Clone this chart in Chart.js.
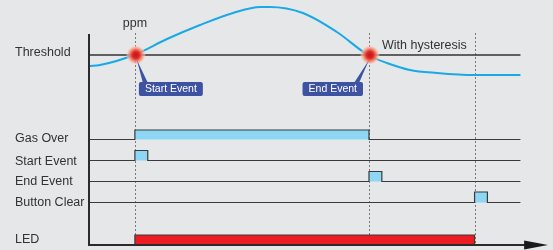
<!DOCTYPE html>
<html>
<head>
<meta charset="utf-8">
<script src="https://cdn.jsdelivr.net/npm/chart.js@4.4.1/dist/chart.umd.min.js"></script>
<style>
  body { margin: 0; background: #e6e7e9; }
  #wrap { width: 553px; height: 250px; position: relative; }
</style>
</head>
<body>
<div id="wrap"><canvas id="chart"></canvas></div>
<script>
// time of events (x units, 0..100)
var startT = 10
var endT = 61
var clearT = 84
var lineEnd = 94
var pulse = 2.8

// gas concentration curve (ppm, arbitrary units)
var ppmT = [0, 2.4, 9.8, 17, 24.2, 31.4, 37.3, 39.4, 46.6, 54, 60.8, 64.9, 69.9, 75.8, 83.9, 94]
var ppmV = [17.9, 18.0, 19.0, 20.6, 22.0, 23.2, 23.8, 23.8, 23.2, 21.3, 19.0, 18.2, 17.5, 17.2, 17.0, 17.0]
var threshold = 19.0

// digital rows
var rowNames = ["Gas Over", "Start Event", "End Event", "Button Clear", "LED"]
var rowBase = [10.55, 8.45, 6.35, 4.25, 0]
var rowHigh = [0.95, 1.0, 1.0, 1.05, 1.0]
var rowLabelY = [10.65, 8.35, 6.35, 4.25, 0.5]
var rowColor = ["#8dd6f4", "#8dd6f4", "#8dd6f4", "#8dd6f4", "#ec1c24"]
// edges: [time, on/off]
var rowEdges = [
  [[0, 0], [startT, 1], [endT, 0], [lineEnd, 0]],
  [[0, 0], [startT, 1], [startT + pulse, 0], [lineEnd, 0]],
  [[0, 0], [endT, 1], [endT + pulse, 0], [lineEnd, 0]],
  [[0, 0], [clearT, 1], [clearT + pulse, 0], [lineEnd, 0]],
  [[0, 0], [startT, 1], [clearT, 0], [lineEnd, 0]]
]

var FONT = '"Liberation Sans", Arial, sans-serif'

var datasets = [{
  data: ppmT.map(function (t, i) { return {x: t, y: ppmV[i]} }),
  borderColor: "#19a9e6",
  borderWidth: 2,
  pointRadius: 0,
  tension: 0.4,
  cubicInterpolationMode: 'monotone',
  fill: false
}]

for (let r = 0; r < rowNames.length; r++) {
  datasets.push({
    data: rowEdges[r].map(function (e) { return {x: e[0], y: rowBase[r] + e[1] * rowHigh[r]} }),
    stepped: 'before',
    borderColor: "#3a3a3a",
    borderWidth: 1.2,
    pointRadius: 0,
    backgroundColor: rowColor[r],
    fill: {value: rowBase[r]}
  })
}

var deco = {
  id: 'deco',
  beforeDatasetsDraw: function (chart) {
    var c = chart.ctx, xs = chart.scales.x, ys = chart.scales.y
    c.save()
    // dashed event lines
    c.strokeStyle = "#7a7a7a"
    c.lineWidth = 1
    c.setLineDash([2, 2])
    ;[startT, endT, clearT].forEach(function (t) {
      var px = Math.round(xs.getPixelForValue(t)) + 0.5
      c.beginPath()
      c.moveTo(px, ys.getPixelForValue(21.2))
      c.lineTo(px, ys.getPixelForValue(0))
      c.stroke()
    })
    c.setLineDash([])
    // threshold line
    c.strokeStyle = "#333"
    c.lineWidth = 1.5
    var ty = ys.getPixelForValue(threshold)
    c.beginPath()
    c.moveTo(xs.getPixelForValue(0), ty)
    c.lineTo(xs.getPixelForValue(lineEnd), ty)
    c.stroke()
    c.restore()
  },
  afterDatasetsDraw: function (chart) {
    var c = chart.ctx, xs = chart.scales.x, ys = chart.scales.y
    c.save()
    // axes
    var x0 = xs.getPixelForValue(0), y0 = ys.getPixelForValue(0)
    c.strokeStyle = "#2b2b2b"
    c.lineWidth = 2
    c.beginPath()
    c.moveTo(x0, ys.getPixelForValue(21.1))
    c.lineTo(x0, y0)
    c.lineTo(xs.getPixelForValue(98), y0)
    c.stroke()
    c.fillStyle = "#1a1a1a"
    c.beginPath()
    c.moveTo(xs.getPixelForValue(94.8), y0 - 4.5)
    c.lineTo(xs.getPixelForValue(100), y0)
    c.lineTo(xs.getPixelForValue(94.8), y0 + 4.5)
    c.closePath()
    c.fill()

    // glowing event dots
    var ty = ys.getPixelForValue(threshold)
    ;[startT, endT].forEach(function (t) {
      var px = xs.getPixelForValue(t) + 1
      var g = c.createRadialGradient(px, ty, 0, px, ty, 10)
      g.addColorStop(0, "#c8101a")
      g.addColorStop(0.35, "#dc2a25")
      g.addColorStop(0.6, "rgba(240,120,95,0.9)")
      g.addColorStop(0.85, "rgba(248,190,170,0.6)")
      g.addColorStop(1, "rgba(255,235,225,0)")
      c.fillStyle = g
      c.beginPath()
      c.arc(px, ty, 10, 0, Math.PI * 2)
      c.fill()
    })

    // callouts
    c.font = "10.5px " + FONT
    c.textBaseline = "middle"
    var callouts = [["Start Event", startT, 1], ["End Event", endT, -1]]
    callouts.forEach(function (co) {
      var px = xs.getPixelForValue(co[1])
      var w = c.measureText(co[0]).width + 12, h = 14
      var top = ty + 27
      var left = co[2] > 0 ? px + 4 : px - 6 - w
      c.fillStyle = "#3d52a1"
      c.beginPath()
      if (co[2] > 0) {
        c.moveTo(left + 4, top + 1)
        c.lineTo(px + 2, ty + 5)
        c.lineTo(left + 9, top + 1)
      } else {
        c.moveTo(left + w - 9, top + 1)
        c.lineTo(px, ty + 5)
        c.lineTo(left + w - 4, top + 1)
      }
      c.fill()
      c.beginPath()
      c.roundRect(left, top, w, h, 2)
      c.fill()
      c.fillStyle = "#fff"
      c.textAlign = "left"
      c.fillText(co[0], left + 6, top + h / 2 + 0.5)
    })

    // texts
    c.fillStyle = "#333"
    c.font = "12.5px " + FONT
    c.textAlign = "left"
    c.fillText("Threshold", 15, ty - 2)
    rowNames.forEach(function (n, i) {
      c.fillText(n, 15, ys.getPixelForValue(rowLabelY[i]))
    })
    c.fillText("With hysteresis", xs.getPixelForValue(endT) + 13, ys.getPixelForValue(19.9))
    c.textAlign = "center"
    c.fillText("ppm", xs.getPixelForValue(startT), ys.getPixelForValue(22.1))
    c.restore()
  }
}

var ctx = document.getElementById('chart').getContext('2d')
var myChart = new Chart(ctx, {
  type: 'line',
  data: {datasets: datasets},
  options: {
    responsive: true,
    maintainAspectRatio: false,
    animation: false,
    layout: {padding: {left: 89, right: 5, top: 0, bottom: 5}},
    scales: {
      x: {type: 'linear', min: 0, max: 100, display: false},
      y: {type: 'linear', min: 0, max: 24.5, display: false}
    },
    plugins: {legend: {display: false}, tooltip: {enabled: false}}
  },
  plugins: [deco]
})
</script>
</body>
</html>
